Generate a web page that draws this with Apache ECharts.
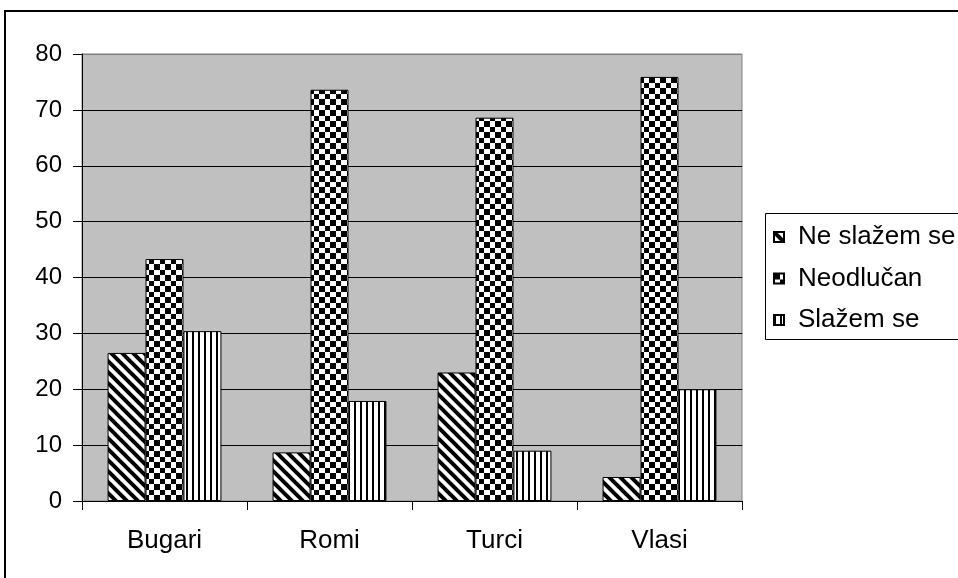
<!DOCTYPE html>
<html>
<head>
<meta charset="utf-8">
<script src="https://cdn.jsdelivr.net/npm/echarts@6/dist/echarts.min.js"></script>
<style>html,body{margin:0;padding:0;background:#fff;}#c{width:958px;height:578px;}</style>
</head>
<body>
<div id="c"></div>
<script>
const categories = ['Bugari', 'Romi', 'Turci', 'Vlasi'];
const seriesNames = ['Ne slažem se', 'Neodlučan', 'Slažem se'];
const neSlazemSe = [26.5, 8.7, 23.0, 4.3];
const neodlucan = [43.3, 73.6, 68.6, 75.9];
const slazemSe = [30.4, 17.9, 9.0, 20.0];
const yTicks = [0, 10, 20, 30, 40, 50, 60, 70, 80];

function makeCanvas(w, h, draw) {
  const c = document.createElement('canvas');
  c.width = w; c.height = h;
  const ctx = c.getContext('2d');
  ctx.fillStyle = '#fff';
  ctx.fillRect(0, 0, w, h);
  ctx.fillStyle = '#000';
  draw(ctx);
  return c;
}
// diagonal stripes "\\\"
const diagCanvas = makeCanvas(11, 11, ctx => {
  ctx.strokeStyle = '#000';
  ctx.lineWidth = 4;
  for (let k = -11; k <= 11; k += 11) {
    ctx.beginPath();
    ctx.moveTo(k - 2, -2);
    ctx.lineTo(k + 13, 13);
    ctx.stroke();
  }
});
// checkerboard
const checkCanvas = makeCanvas(11, 11, ctx => {
  ctx.fillRect(0, 0, 6, 6);
  ctx.fillRect(6, 6, 5, 5);
});
// vertical stripes
const vertCanvas = makeCanvas(6, 6, ctx => {
  ctx.fillRect(0, 0, 2, 6);
});
const patterns = [
  { image: diagCanvas, repeat: 'repeat' },
  { image: checkCanvas, repeat: 'repeat' },
  { image: vertCanvas, repeat: 'repeat' }
];
const dataSets = [neSlazemSe, neodlucan, slazemSe];

const chart = echarts.init(document.getElementById('c'), null, { renderer: 'canvas' });
const font = 'Liberation Sans, Arial, sans-serif';
const gridColors = ['#000', '#000', '#000', '#000', '#000', '#000', '#000', '#000', '#808080'];

chart.setOption({
  animation: false,
  backgroundColor: '#fff',
  graphic: [
    { type: 'rect', shape: { x: 5, y: 11, width: 1000, height: 700 }, style: { fill: 'none', stroke: '#000', lineWidth: 2 }, z: 0 },
    { type: 'rect', shape: { x: 765.5, y: 213.5, width: 300, height: 126 }, style: { fill: '#fff', stroke: '#000', lineWidth: 1 }, z: 1 }
  ],
  grid: {
    left: 82, right: 216, top: 54, bottom: 77,
    show: true, backgroundColor: '#C0C0C0', borderColor: '#808080', borderWidth: 1
  },
  legend: {
    orient: 'vertical',
    left: 768, top: 219,
    itemWidth: 10, itemHeight: 10, itemGap: 15.5,
    icon: 'rect',
    data: seriesNames,
    textStyle: { fontFamily: font, fontSize: 26, color: '#000', lineHeight: 26, padding: [0, 0, 0, 9] },
    z: 5
  },
  xAxis: {
    type: 'category',
    data: categories,
    boundaryGap: true,
    axisLine: { lineStyle: { color: '#000', width: 1 } },
    axisTick: { show: true, length: 9, interval: 0, lineStyle: { color: '#000' } },
    axisLabel: { fontFamily: font, fontSize: 26, color: '#000', margin: 27 },
    splitLine: { show: false }
  },
  yAxis: {
    type: 'value',
    min: 0, max: 80, interval: 10,
    axisLine: { show: true, lineStyle: { color: '#000', width: 1 } },
    axisTick: { show: true, length: 9, lineStyle: { color: '#000' } },
    axisLabel: { fontFamily: font, fontSize: 24, color: '#000', margin: 20,
      formatter: v => (yTicks.indexOf(v) >= 0 ? String(v) : '') },
    splitLine: { show: true, lineStyle: { color: gridColors, width: 1 } }
  },
  series: seriesNames.map((name, i) => ({
    name: name,
    type: 'bar',
    data: dataSets[i],
    barGap: '0%',
    barCategoryGap: '31%',
    itemStyle: { color: patterns[i], borderColor: '#000', borderWidth: 1 }
  }))
});
</script>
</body>
</html>
